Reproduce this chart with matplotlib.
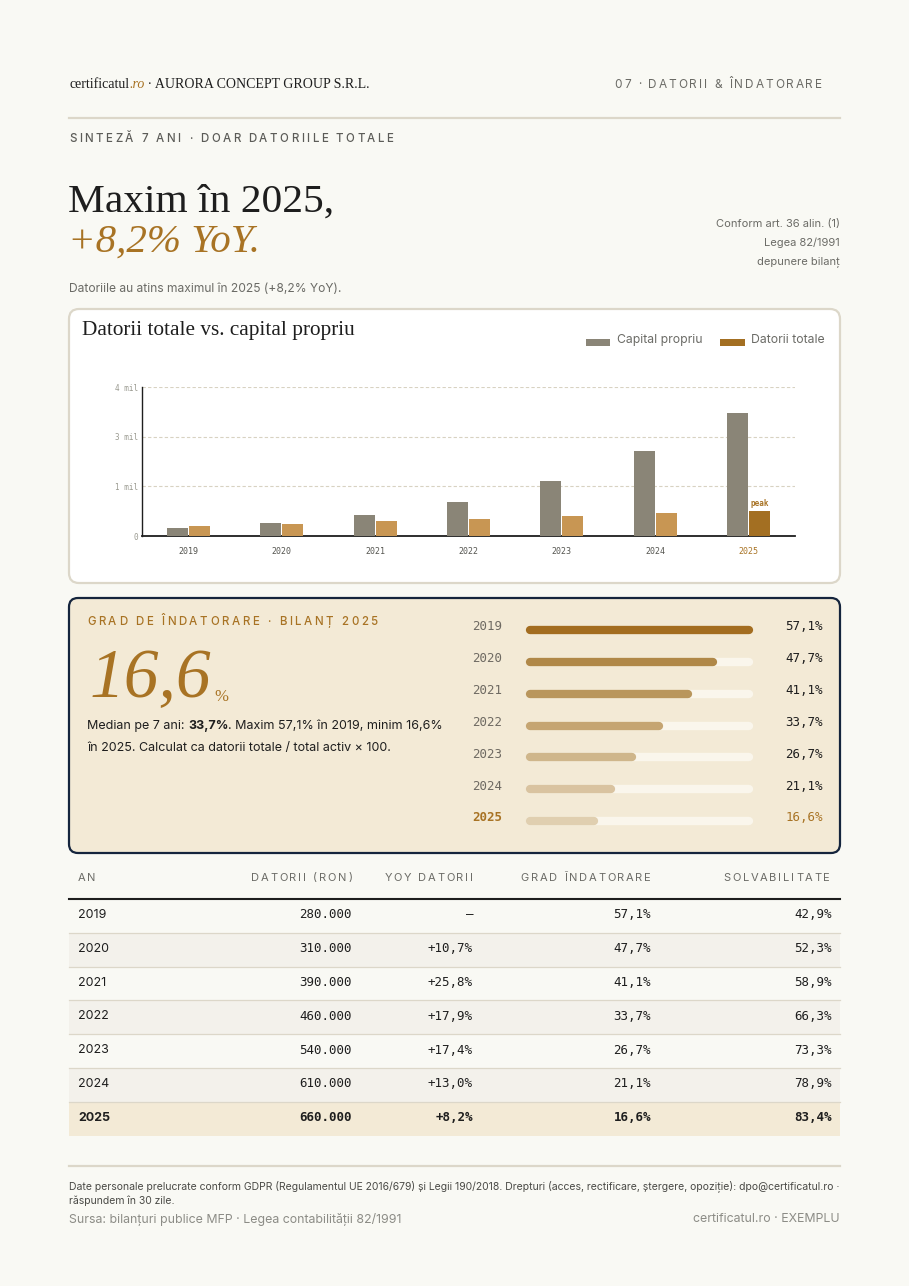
import numpy as np
import matplotlib
matplotlib.use("Agg")
import matplotlib.pyplot as plt
import matplotlib.transforms as mtransforms
from matplotlib.patches import FancyBboxPatch, Rectangle

# =========================
# Date
# =========================
years = [2019, 2020, 2021, 2022, 2023, 2024, 2025]
datorii = [280000, 310000, 390000, 460000, 540000, 610000, 660000]
capital = [210000, 340000, 560000, 905000, 1480000, 2280000, 3315000]
yoy_datorii = [None, 10.7, 25.8, 17.9, 17.4, 13.0, 8.2]
grad_indatorare = [57.1, 47.7, 41.1, 33.7, 26.7, 21.1, 16.6]
solvabilitate = [42.9, 52.3, 58.9, 66.3, 73.3, 78.9, 83.4]
y_ticks = [0, 4e6 / 3, 8e6 / 3, 4e6]
y_tick_labels = ["0", "1 mil", "3 mil", "4 mil"]
table_cols = ["AN", "DATORII (RON)", "YOY DATORII", "GRAD ÎNDATORARE", "SOLVABILITATE"]

# =========================
# Stil
# =========================
W, H = 909, 1286
BG = "#f9f9f4"
LINE = "#dcd7c9"
GREY_BAR = "#8a8577"
GOLD_BAR = "#c89653"
GOLD_DARK = "#a36f22"
GOLD_TXT = "#a87324"
NAVY = "#15253d"
PANEL = "#f3ead6"
TRACK = "#faf6ec"
DARK = "#1e1e1e"
GREY_TXT = "#6b6b66"
RATIO_COLORS = ["#a36d20", "#b08848", "#b9965c", "#c5a572", "#cfb68b", "#d9c3a0", "#e0cfb0"]

SERIF = "Liberation Serif"
SANS = "Inter"
MONO = "DejaVu Sans Mono"


def fmt_ron(v):
    return f"{v:,.0f}".replace(",", ".")


def fmt_pct(v, sign=False):
    s = f"{v:+.1f}%" if sign else f"{v:.1f}%"
    return s.replace(".", ",")


fig = plt.figure(figsize=(W / 100, H / 100), dpi=100)
fig.patch.set_facecolor(BG)
ov = fig.add_axes([0, 0, 1, 1])
ov.set_xlim(0, W)
ov.set_ylim(H, 0)
ov.axis("off")
renderer = fig.canvas.get_renderer()


def text_w(s, **kw):
    t = ov.text(0, 0, s + "|", **kw)
    w1 = t.get_window_extent(renderer).width
    t.remove()
    t = ov.text(0, 0, "|", **kw)
    w2 = t.get_window_extent(renderer).width
    t.remove()
    return w1 - w2


def spaced(x, y, s, track, ha="left", **kw):
    widths = [text_w(s[:i], **kw) for i in range(len(s) + 1)]
    total = widths[-1] + track * (len(s) - 1)
    x0 = x - total if ha == "right" else x
    for i, ch in enumerate(s):
        if ch != " ":
            ov.text(x0 + widths[i] + track * i, y, ch, ha="left", va="center", **kw)


def runs(x, y, parts):
    for s, kw in parts:
        ov.text(x, y, s, ha="left", va="center", **kw)
        x += text_w(s, **kw)


# =========================
# Header
# =========================
runs(69, 84, [
    ("certificatul", dict(family=SERIF, size=10, color=DARK)),
    (".ro", dict(family=SERIF, size=10, style="italic", color=GOLD_TXT)),
    (" · AURORA CONCEPT GROUP S.R.L.", dict(family=SERIF, size=10, color=DARK)),
])
spaced(822, 85, "07 · DATORII & ÎNDATORARE", 1.9, ha="right", family=SANS, size=8.5, color=GREY_TXT)
ov.plot([69, 840], [118, 118], color=LINE, lw=1.6)
spaced(69, 139, "SINTEZĂ 7 ANI · DOAR DATORIILE TOTALE", 2.5, family=SANS, size=8.3,
       color="#5c5c58", weight="medium")

ov.text(68, 202, "Maxim în 2025,", family=SERIF, size=29.8, color=DARK, ha="left", va="center")
ov.text(68, 242, "+8,2% YoY.", family=SERIF, size=29.5, style="italic", color=GOLD_TXT,
        ha="left", va="center")
for yy, s in zip([224, 243, 262], ["Conform art. 36 alin. (1)", "Legea 82/1991", "depunere bilanț"]):
    ov.text(840, yy, s, family=SANS, size=8, color=GREY_TXT, ha="right", va="center")
ov.text(69, 289, "Datoriile au atins maximul în 2025 (+8,2% YoY).", family=SANS, size=8.7,
        color=GREY_TXT, ha="left", va="center")

# =========================
# Card grafic
# =========================
ov.add_patch(FancyBboxPatch((69, 309), 771, 274, boxstyle="round,pad=0,rounding_size=10",
                            facecolor="white", edgecolor=LINE, lw=1.6))
ov.text(82, 330, "Datorii totale vs. capital propriu", family=SERIF, size=15.3, color=DARK,
        ha="left", va="center")
ov.add_patch(Rectangle((586, 338.5), 24, 7, facecolor=GREY_BAR, edgecolor="none"))
ov.text(617, 340, "Capital propriu", family=SANS, size=8.8, color=GREY_TXT, ha="left", va="center")
ov.add_patch(Rectangle((720, 338.5), 25, 7, facecolor=GOLD_DARK, edgecolor="none"))
ov.text(751, 340, "Datorii totale", family=SANS, size=8.8, color=GREY_TXT, ha="left", va="center")

ax = fig.add_axes([142 / W, 1 - 536 / H, 653 / W, 149 / H])
ax.patch.set_alpha(0)
x = np.arange(len(years))
bw = 0.225
ax.bar(x - bw / 2 - 0.006, capital, width=bw, color=GREY_BAR, zorder=3)
bar_colors = [GOLD_BAR] * (len(years) - 1) + [GOLD_DARK]
ax.bar(x + bw / 2 + 0.006, datorii, width=bw, color=bar_colors, zorder=3)
ax.annotate("peak", (x[-1] + bw / 2 + 0.006, datorii[-1]), xytext=(0, 2.5), textcoords="offset points",
            ha="center", va="bottom", family=MONO, size=5.5, color=GOLD_TXT, weight="bold")
ax.set_xlim(-0.5, len(years) - 0.5)
ax.set_ylim(0, 4e6)
ax.set_yticks(y_ticks)
ax.set_yticklabels(y_tick_labels)
for v in y_ticks[1:]:
    ax.axhline(v, color="#d8d2c2", lw=0.8, ls=(0, (3, 2)), zorder=1)
ax.set_xticks(x)
ax.set_xticklabels([str(yv) for yv in years])
for lab in ax.get_xticklabels():
    lab.set_fontfamily(MONO)
    lab.set_fontsize(6)
    lab.set_color("#555550")
ax.get_xticklabels()[-1].set_color(GOLD_TXT)
for lab in ax.get_yticklabels():
    lab.set_fontfamily(MONO)
    lab.set_fontsize(5.5)
    lab.set_color("#9a9a90")
ax.tick_params(axis="both", length=0)
ax.tick_params(axis="x", pad=8)
ax.tick_params(axis="y", pad=3)
for sp in ["top", "right"]:
    ax.spines[sp].set_visible(False)
ax.spines["left"].set_color(DARK)
ax.spines["left"].set_linewidth(1.0)
ax.spines["bottom"].set_color(DARK)
ax.spines["bottom"].set_linewidth(1.3)

# =========================
# Panou grad de indatorare
# =========================
ov.add_patch(FancyBboxPatch((69, 598), 771, 255, boxstyle="round,pad=0,rounding_size=9",
                            facecolor=PANEL, edgecolor=NAVY, lw=1.6))
spaced(87, 622, "GRAD DE ÎNDATORARE · BILANȚ 2025", 2.6, family=SANS, size=8.3, color=GOLD_TXT,
       weight="medium")
ov.text(90, 697, fmt_pct(grad_indatorare[-1])[:-1], family=SERIF, size=50, style="italic",
        color=GOLD_TXT, ha="left", va="baseline")
ov.text(214, 701, "%", family=SERIF, size=12, color=GOLD_TXT, ha="left", va="baseline")
runs(87, 726, [
    ("Median pe 7 ani: ", dict(family=SANS, size=9.0, color=DARK)),
    (fmt_pct(float(np.median(grad_indatorare))), dict(family=SANS, size=9.0, color=DARK, weight="bold")),
    (". Maxim 57,1% în 2019, minim 16,6%", dict(family=SANS, size=9.0, color=DARK)),
])
ov.text(87, 748, "în 2025. Calculat ca datorii totale / total activ × 100.", family=SANS, size=9.0,
        color=DARK, ha="left", va="center")

rax = fig.add_axes([530 / W, 1 - 837 / H, 219 / W, (837 - 614) / H])
rax.axis("off")
rax.set_xlim(0, max(grad_indatorare))
rax.set_ylim(len(years) - 0.5, -0.5)
for i, (yr, g) in enumerate(zip(years, grad_indatorare)):
    rax.plot([0, max(grad_indatorare)], [i, i], color=TRACK, lw=6, solid_capstyle="round", clip_on=False)
    rax.plot([0, g], [i, i], color=RATIO_COLORS[i], lw=6, solid_capstyle="round", clip_on=False)
blend = mtransforms.blended_transform_factory(ov.transData, rax.transData)
for i, (yr, g) in enumerate(zip(years, grad_indatorare)):
    last = i == len(years) - 1
    rax.text(472, i - 0.1, str(yr), transform=blend, family=MONO, size=9,
             color=GOLD_TXT if last else "#6e6a62", weight="bold" if last else "normal",
             ha="left", va="center")
    rax.text(823, i - 0.1, fmt_pct(g), transform=blend, family=MONO, size=9,
             color=GOLD_TXT if last else DARK, ha="right", va="center")

# =========================
# Tabel
# =========================
col_x = [78, 352, 473, 651, 830]
spaced(col_x[0], 878, table_cols[0], 1.8, family=SANS, size=8, color=GREY_TXT)
for cx, cname in zip(col_x[1:], table_cols[1:]):
    spaced(cx, 878, cname, 1.8, ha="right", family=SANS, size=8, color=GREY_TXT)

row_top = 899
row_h = 33.8
for i, yr in enumerate(years):
    y0 = row_top + i * row_h
    last = i == len(years) - 1
    if last:
        ov.add_patch(Rectangle((69, y0), 771, row_h, facecolor=PANEL, edgecolor="none"))
    elif i % 2 == 1:
        ov.add_patch(Rectangle((69, y0), 771, row_h, facecolor="#f3f1eb", edgecolor="none"))
    if i > 0:
        ov.plot([69, 840], [y0, y0], color=LINE, lw=0.9)
    yc = y0 + row_h / 2 - 1
    wt = "bold" if last else "normal"
    ov.text(col_x[0], yc, str(yr), family=SANS, size=9, color=DARK, weight=wt, ha="left", va="center")
    cells = [fmt_ron(datorii[i]),
             "—" if yoy_datorii[i] is None else fmt_pct(yoy_datorii[i], sign=True),
             fmt_pct(grad_indatorare[i]),
             fmt_pct(solvabilitate[i])]
    for cx, s in zip([352, 473, 651, 832], cells):
        ov.text(cx, yc, s, family=MONO, size=9, color=DARK, weight=wt, ha="right", va="center")
ov.plot([69, 840], [row_top, row_top], color=DARK, lw=1.5)

# =========================
# Footer
# =========================
ov.plot([69, 840], [1166, 1166], color=LINE, lw=1.6)
ov.text(69, 1186, "Date personale prelucrate conform GDPR (Regulamentul UE 2016/679) și Legii 190/2018. "
        "Drepturi (acces, rectificare, ștergere, opoziție): dpo@certificatul.ro ·",
        family=SANS, size=7.5, color="#4a4a46", ha="left", va="center")
ov.text(69, 1201, "răspundem în 30 zile.", family=SANS, size=7.5, color="#4a4a46", ha="left", va="center")
ov.text(69, 1219, "Sursa: bilanțuri publice MFP · Legea contabilității 82/1991", family=SANS, size=8.9,
        color="#8c8c86", ha="left", va="center")
ov.text(840, 1219, "certificatul.ro · EXEMPLU", family=SANS, size=8.9, color="#8c8c86",
        ha="right", va="center")

fig.savefig("out.png", dpi=100, facecolor=BG)
